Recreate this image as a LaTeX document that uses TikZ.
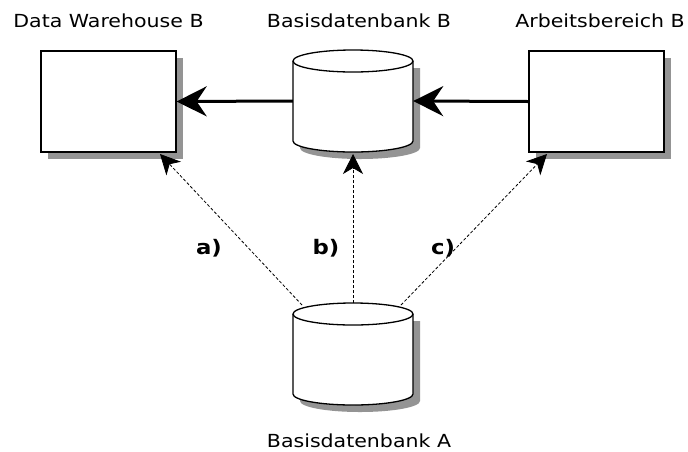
\documentclass[tikz,border=0pt]{standalone}
\usepackage{fontspec}
\setmainfont{DejaVu Sans}[FakeStretch=1.14]
\usetikzlibrary{arrows.meta,calc}
\tikzset{
  boxnode/.style={draw, line width=1.3pt, fill=white, rectangle, inner sep=0,
    minimum width=135pt, minimum height=101pt},
  cylhold/.style={inner sep=0, minimum width=120pt, minimum height=101pt},
  caption/.style={font=\fontsize{18pt}{20pt}\selectfont, inner sep=0, anchor=base},
  tag/.style={font=\bfseries\fontsize{20pt}{22pt}\selectfont, inner sep=0, anchor=base},
  flow/.style={line width=3pt, -{Stealth[length=30pt,width=30pt,inset=10pt]}},
  link/.style={line width=0.8pt, dash pattern=on 3pt off 2pt, -{Stealth[length=20pt,width=20pt,inset=6pt]}},
}
% cylinder centred at (#1,#2): half width 60, ellipse ry 11, height 101
\newcommand{\dbcyl}[2]{%
  \fill[black!42] ($(#1,#2)+(-53,-33)$) -- ($(#1,#2)+(-53,47)$)
     arc[start angle=180,end angle=360,x radius=60pt,y radius=11pt]
     -- ($(#1,#2)+(67,-33)$) -- cycle;
  \fill[white] ($(#1,#2)+(-60,-40)$) -- ($(#1,#2)+(-60,40)$)
     arc[start angle=180,end angle=360,x radius=60pt,y radius=11pt]
     -- ($(#1,#2)+(60,-40)$) arc[start angle=0,end angle=180,x radius=60pt,y radius=11pt];
  \draw[line width=1.3pt] ($(#1,#2)+(-60,-40)$) -- ($(#1,#2)+(-60,40)$)
     arc[start angle=180,end angle=360,x radius=60pt,y radius=11pt]
     -- ($(#1,#2)+(60,-40)$);
  \draw[line width=1.3pt] ($(#1,#2)+(0,-40)$) ellipse[x radius=60pt,y radius=11pt];
}
\begin{document}
\begin{tikzpicture}[x=1pt,y=-1pt]
\useasboundingbox[fill=white] (0,0) rectangle (688,451);

% rectangular stores with shadows
\fill[black!42] (48,58) rectangle (183,159);
\node[boxnode] (dw) at (108.5,101.5) {};
\fill[black!42] (536,58) rectangle (671,159);
\node[boxnode] (ab) at (596.5,101.5) {};

% database cylinders
\node[cylhold] (dbB) at (353,101) {};
\dbcyl{353}{101}
\node[cylhold] (dbA) at (353,354) {};
\dbcyl{353}{354}

% captions
\node[caption] (tdw) at (108.5,27) {Data Warehouse B};
\node[caption] (tdbB) at (359,27) {Basisdatenbank B};
\node[caption] (tab) at (600,27) {Arbeitsbereich B};
\node[caption] (tdbA) at (359,447) {Basisdatenbank A};

% main flow
\draw[flow] (dbB.west) -- (dw.east);
\draw[flow] (ab.west) -- (dbB.east);

% alternative transfers
\coordinate (sa) at (302,305);
\coordinate (sb) at (353,303);
\coordinate (sc) at (401,305);
\coordinate (ea) at (160,154);
\coordinate (eb) at (353,154);
\coordinate (ec) at (547,154);
\draw[link] (sa) -- (ea);
\draw[link] (sb) -- (eb);
\draw[link] (sc) -- (ec);

\node[tag] (la) at (209,254) {a)};
\node[tag] (lb) at (326,254) {b)};
\node[tag] (lc) at (443,254) {c)};
\end{tikzpicture}
\end{document}
